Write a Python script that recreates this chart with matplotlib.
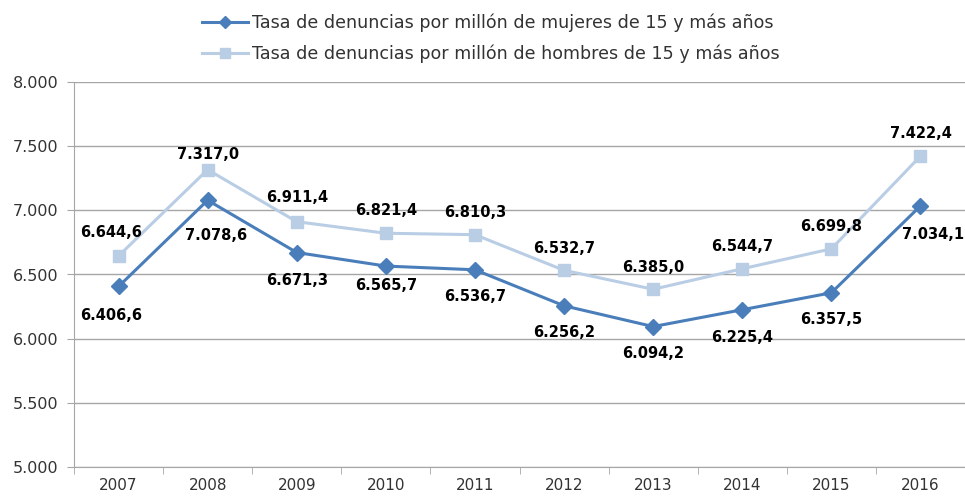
import matplotlib.pyplot as plt
from matplotlib.ticker import FuncFormatter, MultipleLocator
import numpy as np

# Data
years = ['2007', '2008', '2009', '2010', '2011', '2012', '2013', '2014', '2015', '2016']
mujeres = [6406.6, 7078.6, 6671.3, 6565.7, 6536.7, 6256.2, 6094.2, 6225.4, 6357.5, 7034.1]
hombres = [6644.6, 7317.0, 6911.4, 6821.4, 6810.3, 6532.7, 6385.0, 6544.7, 6699.8, 7422.4]
label_m = 'Tasa de denuncias por millón de mujeres de 15 y más años'
label_h = 'Tasa de denuncias por millón de hombres de 15 y más años'

# label offsets in pixels (dx, dy), like the hand-moved Excel labels
off_m = [(-7, -29), (8, -35), (0, -28), (0, -19), (0, -27), (0, -27), (0, -27), (0, -28), (0, -27), (13, -29)]
off_h = [(-7, 23), (0, 15), (0, 24), (0, 23), (0, 22), (0, 22), (0, 22), (0, 22), (0, 22), (0, 23)]

dark = '#4a7ebb'
light = '#b9cde5'
grid_col = '#a6a6a6'
txt_col = '#333333'

plt.rcParams['font.family'] = ['DejaVu Sans']

fig = plt.figure(figsize=(9.65, 4.98), dpi=100)
ax = fig.add_axes([74 / 965, 1 - 467 / 498, 1 - 74 / 965, (467 - 82) / 498])

x = np.arange(len(years))
ax.plot(x, mujeres, color=dark, lw=2.2, marker='D', markersize=8, label=label_m, zorder=4)
ax.plot(x, hombres, color=light, lw=2.2, marker='s', markersize=9, label=label_h, zorder=3)

def fmt(v):
    s = f'{v:,.1f}'
    return s.replace(',', 'X').replace('.', ',').replace('X', '.')

for i in range(len(years)):
    ax.annotate(fmt(mujeres[i]), (x[i], mujeres[i]), xytext=off_m[i], textcoords='offset pixels',
                ha='center', va='center', fontsize=10.5, fontweight='bold', color='black',
                annotation_clip=False)
    ax.annotate(fmt(hombres[i]), (x[i], hombres[i]), xytext=off_h[i], textcoords='offset pixels',
                ha='center', va='center', fontsize=10.5, fontweight='bold', color='black',
                annotation_clip=False)

ax.set_ylim(5000, 8000)
ax.set_xlim(-0.5, len(years) - 0.5)
ax.yaxis.set_major_locator(MultipleLocator(500))
ax.yaxis.set_major_formatter(FuncFormatter(lambda v, p: f'{int(v):,}'.replace(',', '.')))
ax.grid(axis='y', color=grid_col, lw=1)
ax.set_axisbelow(True)

ax.set_xticks(x)
ax.set_xticklabels(years)
ax.set_xticks(np.arange(-0.5, len(years), 1), minor=True)
ax.tick_params(axis='x', which='major', length=0, pad=8, labelsize=11, labelcolor=txt_col)
ax.tick_params(axis='x', which='minor', length=5, color=grid_col)
ax.tick_params(axis='y', length=5, color=grid_col, labelsize=11.5, pad=6, labelcolor=txt_col)

for side in ['top', 'right']:
    ax.spines[side].set_visible(False)
for side in ['left', 'bottom']:
    ax.spines[side].set_color(grid_col)

leg = fig.legend(loc='upper center', bbox_to_anchor=(0.509, 1.005), ncol=1, frameon=False,
                 fontsize=12.6, handlelength=2.6, handletextpad=0.25, labelspacing=0.75,
                 markerscale=0.75)
for t in leg.get_texts():
    t.set_color(txt_col)

fig.savefig('out.png', dpi=100)
